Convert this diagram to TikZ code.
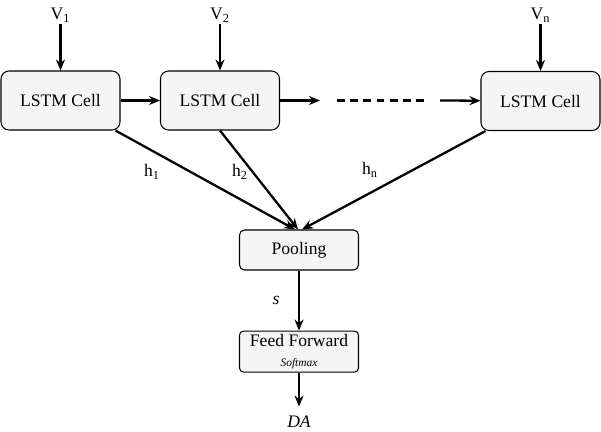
\documentclass[tikz,border=0pt]{standalone}
\usepackage{fontspec}
\setmainfont{Liberation Serif}
\usetikzlibrary{arrows.meta, positioning}

\begin{document}
\begin{tikzpicture}[
    font=\fontsize{10}{12}\selectfont,
    cell/.style={draw, rectangle, rounded corners=0.16cm, fill=gray!8, line width=0.6pt,
                 minimum width=2.38cm, minimum height=1.18cm},
    block/.style={draw, rectangle, rounded corners=0.1cm, fill=gray!8, line width=0.6pt,
                  minimum width=2.38cm, minimum height=0.8cm, align=center},
    arr/.style={-{Stealth[length=0.22cm, width=0.18cm]}, line width=1.3pt},
    lbl/.style={inner sep=1pt}
]
    \useasboundingbox (0,0) rectangle (12.02,-8.62);
    % LSTM chain
    \node[cell] (c1) at (1.21,-2.01) {LSTM Cell};
    \node[cell] (c2) at (4.40,-2.01) {LSTM Cell};
    \node[cell] (c3) at (10.81,-2.02) {LSTM Cell};
    \node[lbl] (v1) at (1.21,-0.3) {V\textsubscript{1}};
    \node[lbl] (v2) at (4.40,-0.3) {V\textsubscript{2}};
    \node[lbl] (vn) at (10.81,-0.3) {V\textsubscript{n}};
    \coordinate (d0) at (6.40,-2.01);
    \coordinate (d1) at (6.74,-2.01);
    \coordinate (d2) at (8.54,-2.01);
    \coordinate (d3) at (8.80,-2.01);

    % pooling and output
    \node[block] (pool) at (5.98,-5.0) {Pooling};
    \node[block, minimum height=0.82cm, rounded corners=0.08cm, below=1.2cm of pool, inner sep=1pt]
        (ff) {Feed Forward\\[-1pt]{\fontsize{6.5}{7}\selectfont\itshape Softmax}};
    \node[inner sep=5pt, below=0.68cm of ff] (da) {\textit{DA}};
    \node[lbl] (h1) at (3.04,-3.44) {h\textsubscript{1}};
    \node[lbl] (h2) at (4.80,-3.44) {h\textsubscript{2}};
    \node[lbl] (hn) at (7.40,-3.40) {h\textsubscript{n}};

    \draw[arr] (v1) -- (c1);
    \draw[arr] (v2) -- (c2);
    \draw[arr] (vn) -- (c3);
    \draw[arr] (c1) -- (c2);
    \draw[arr] (c2) -- (d0);
    \draw[line width=1.3pt, dash pattern=on 4.5pt off 3pt] (d1) -- (d2);
    \draw[arr] (d3) -- (c3);
    \draw[arr] ([xshift=-0.1cm]c1.south east) -- ([xshift=-0.08cm]pool.north);
    \draw[arr] ([xshift=-1.2cm]c2.south east) -- ([xshift=-0.02cm]pool.north);
    \draw[arr] ([xshift=0.1cm]c3.south west) -- ([xshift=0.06cm]pool.north);
    \draw[arr] (pool) -- node[left=0.25cm] {\textit{s}} (ff);
    \draw[arr] (ff) -- (da);
\end{tikzpicture}
\end{document}
